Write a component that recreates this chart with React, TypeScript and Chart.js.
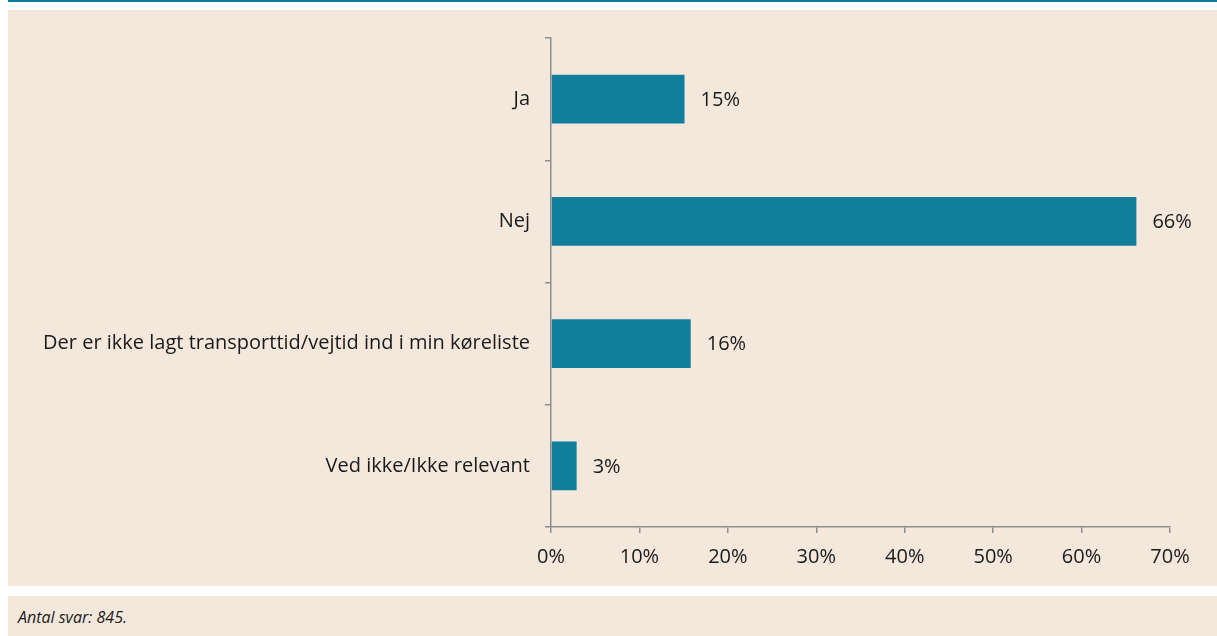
import React, { useEffect, useRef } from "react";
import { Chart, registerables } from "chart.js";

Chart.register(...registerables);

const categories = [
  "Ja",
  "Nej",
  "Der er ikke lagt transporttid/vejtid ind i min køreliste",
  "Ved ikke/Ikke relevant",
];
const shares = [15.1, 66.2, 15.8, 2.9];
const xMin = 0;
const xMax = 70;
const xStep = 10;
const footnote = "Antal svar: 845.";

const FONT = "'Open Sans', 'Noto Sans', sans-serif";
const FS = 20;
const BAR = "#117E9B";
const BG = "#F4E8DC";
const AXIS = "#8E8E8E";
const TEXT = "#1A1A1A";

const valueLabels = {
  id: "valueLabels",
  afterDatasetsDraw(chart: any) {
    const ctx = chart.ctx;
    const meta = chart.getDatasetMeta(0);
    ctx.save();
    ctx.font = `${FS}px ${FONT}`;
    ctx.fillStyle = TEXT;
    ctx.textAlign = "left";
    ctx.textBaseline = "middle";
    meta.data.forEach((bar: any, i: number) => {
      const v = chart.data.datasets[0].data[i] as number;
      ctx.fillText(`${Math.round(v)}%`, bar.x + 16, bar.y + 1);
    });
    ctx.restore();
  },
};

export default function App() {
  const ref = useRef<HTMLCanvasElement | null>(null);
  useEffect(() => {
    if (!ref.current) return;
    const chart = new Chart(ref.current, {
      type: "bar",
      data: {
        labels: categories,
        datasets: [
          {
            data: shares,
            backgroundColor: BAR,
            borderWidth: 0,
            barPercentage: 0.4,
            categoryPercentage: 1,
          },
        ],
      },
      options: {
        indexAxis: "y",
        responsive: false,
        animation: false,
        layout: { padding: { top: 28, right: 47, left: 0, bottom: 0 } },
        plugins: {
          legend: { display: false },
          tooltip: { enabled: false },
        },
        scales: {
          x: {
            min: xMin,
            max: xMax,
            afterFit: (s: any) => {
              s.height = 59;
            },
            ticks: {
              stepSize: xStep,
              callback: (v: any) => `${v}%`,
              font: { family: FONT, size: FS },
              color: TEXT,
              padding: 12,
            },
            grid: {
              drawOnChartArea: false,
              drawTicks: true,
              tickLength: 6,
              color: AXIS,
              lineWidth: 1.5,
            },
            border: { color: AXIS, width: 1.5 },
          },
          y: {
            afterFit: (s: any) => {
              s.width = 543;
            },
            ticks: {
              font: { family: FONT, size: FS },
              color: TEXT,
              padding: 15,
            },
            grid: {
              offset: true,
              drawOnChartArea: false,
              drawTicks: true,
              tickLength: 6,
              color: AXIS,
              lineWidth: 1.5,
            },
            border: { color: AXIS, width: 1.5 },
          },
        },
      },
      plugins: [valueLabels],
    });
    return () => chart.destroy();
  }, []);

  return (
    <div
      style={{
        position: "absolute",
        left: 0,
        top: 0,
        width: 1217,
        height: 636,
        overflow: "hidden",
        background: "#FFFFFF",
      }}
    >
      <div
        style={{
          position: "absolute",
          left: 8,
          top: 0,
          right: 0,
          height: 2,
          background: "#0E7C99",
        }}
      />
      <div
        style={{
          position: "absolute",
          left: 8,
          top: 10,
          width: 1209,
          height: 576,
          background: BG,
        }}
      >
        <canvas ref={ref} width={1209} height={576} style={{ display: "block" }} />
      </div>
      <div
        style={{
          position: "absolute",
          left: 8,
          top: 596,
          width: 1209,
          height: 40,
          background: BG,
          fontFamily: FONT,
          fontStyle: "italic",
          fontSize: 16,
          color: TEXT,
          lineHeight: "42px",
          paddingLeft: 10,
          boxSizing: "border-box",
        }}
      >
        {footnote}
      </div>
    </div>
  );
}
